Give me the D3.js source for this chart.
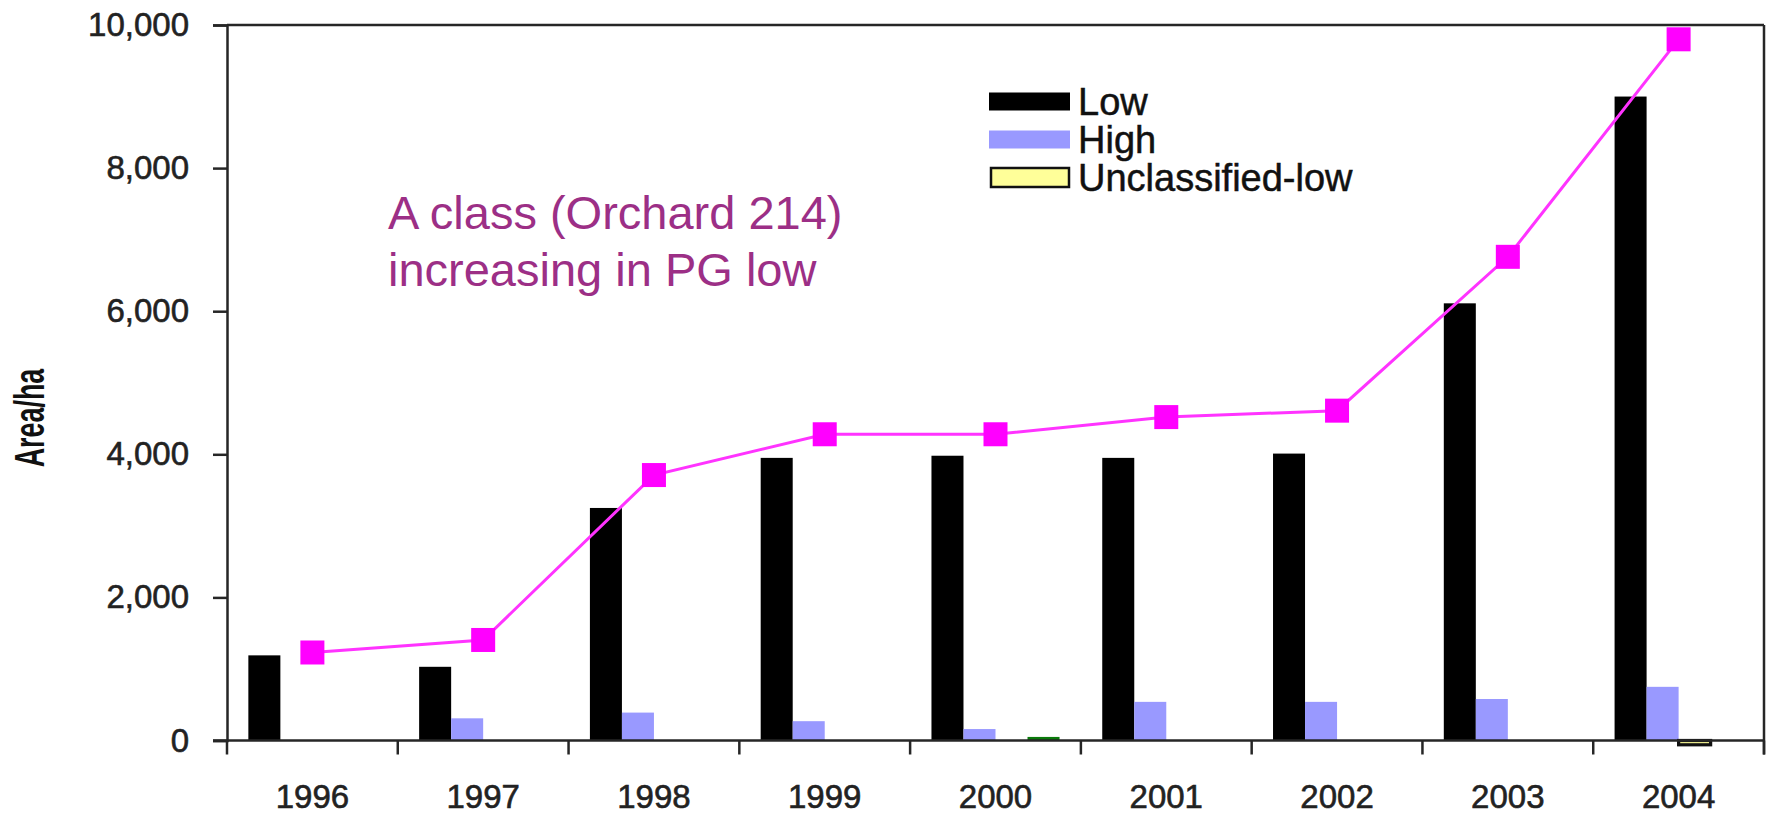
<!DOCTYPE html>
<html>
<head>
<meta charset="utf-8">
<script src="https://cdn.jsdelivr.net/npm/d3@7"></script>
<style>
  html, body { margin: 0; padding: 0; background: #fff; }
  svg { display: block; }
  text { font-family: "Liberation Sans", Arial, sans-serif; }
</style>
</head>
<body>
<svg id="chart" width="1773" height="815"></svg>
<script>
// Orchard 214 area by year (ha)
const years = ["1996", "1997", "1998", "1999", "2000", "2001", "2002", "2003", "2004"];
const lowArea = [1190, 1030, 3250, 3950, 3980, 3950, 4010, 6110, 9000];
const highArea = [0, 310, 390, 270, 160, 540, 540, 580, 750];
const unclassifiedLowArea = [0, 0, 0, 0, 0, 0, 0, 0, -60];
const otherArea = [0, 0, 0, 0, 50, 0, 0, 0, 0];
const totalArea = [1230, 1405, 3710, 4280, 4280, 4520, 4610, 6760, 9800];
const yTicks = [0, 2000, 4000, 6000, 8000, 10000];

const seriesKeys = ["low", "high", "unclassifiedLow", "other"];
const seriesValues = { low: lowArea, high: highArea, unclassifiedLow: unclassifiedLowArea, other: otherArea };
const seriesFill = { low: "#000000", high: "#9999ff", unclassifiedLow: "#ffff99", other: "#0a7a0a" };
const seriesStroke = { low: "none", high: "none", unclassifiedLow: "#111", other: "none" };

const legendItems = [
  { label: "Low", fill: "#000000", stroke: "none" },
  { label: "High", fill: "#9999ff", stroke: "none" },
  { label: "Unclassified-low", fill: "#ffff99", stroke: "#111" }
];

const svg = d3.select("#chart");
const plotLeft = 227, plotRight = 1764, plotTop = 25, plotBottom = 740.5;

const x = d3.scaleBand().domain(years).range([plotLeft, plotRight]).paddingInner(0).paddingOuter(0);
const xInner = d3.scaleBand().domain(seriesKeys).range([0, x.bandwidth()]).paddingInner(0).paddingOuter(0.667);
const y = d3.scaleLinear().domain([0, 10000]).range([plotBottom, plotTop]);

const axisColor = "#262626";
const labelColor = "#222";

// bars
const groups = svg.append("g").selectAll("g")
  .data(years)
  .join("g")
  .attr("transform", d => `translate(${x(d)},0)`);

seriesKeys.forEach(key => {
  groups.filter((d, i) => seriesValues[key][i] !== 0)
    .append("rect")
    .attr("x", xInner(key))
    .attr("width", xInner.bandwidth())
    .attr("y", d => { const v = seriesValues[key][years.indexOf(d)]; return y(Math.max(v, 0)); })
    .attr("height", d => { const v = seriesValues[key][years.indexOf(d)]; return Math.abs(y(v) - y(0)); })
    .attr("fill", seriesFill[key])
    .attr("stroke", seriesStroke[key])
    .attr("stroke-width", 3.2);
});

// plot frame (top and right)
svg.append("line").attr("x1", plotLeft).attr("x2", plotRight).attr("y1", plotTop).attr("y2", plotTop)
  .attr("stroke", axisColor).attr("stroke-width", 2.5);
svg.append("line").attr("x1", plotRight).attr("x2", plotRight).attr("y1", plotTop).attr("y2", plotBottom + 14)
  .attr("stroke", axisColor).attr("stroke-width", 2.5);

// y axis
const yAxis = svg.append("g")
  .attr("transform", `translate(${plotLeft},0)`)
  .call(d3.axisLeft(y).tickValues(yTicks).tickSize(14).tickPadding(24).tickFormat(d3.format(",")));
yAxis.select(".domain").attr("stroke", axisColor).attr("stroke-width", 2.5);
yAxis.selectAll(".tick line").attr("stroke", axisColor).attr("stroke-width", 2.5);
yAxis.selectAll(".tick text")
  .attr("font-size", 33).attr("fill", labelColor)
  .attr("stroke", labelColor).attr("stroke-width", 0.6)
  .style("font-family", "'Liberation Sans', Arial, sans-serif");

// x axis: ticks on category boundaries, labels centred in each band
const boundaries = years.map(d => x(d)).concat([plotRight]);
svg.append("g").selectAll("line")
  .data(boundaries)
  .join("line")
  .attr("x1", d => d).attr("x2", d => d)
  .attr("y1", plotBottom).attr("y2", plotBottom + 14)
  .attr("stroke", axisColor).attr("stroke-width", 2.5);
svg.append("line").attr("x1", plotLeft - 14).attr("x2", plotRight).attr("y1", plotBottom).attr("y2", plotBottom)
  .attr("stroke", axisColor).attr("stroke-width", 2.5);
svg.append("g").selectAll("text")
  .data(years)
  .join("text")
  .attr("x", d => x(d) + x.bandwidth() / 2)
  .attr("y", 808)
  .attr("text-anchor", "middle")
  .attr("font-size", 33)
  .attr("fill", labelColor)
  .attr("stroke", labelColor).attr("stroke-width", 0.6)
  .text(d => d);

// y axis title
svg.append("text")
  .attr("transform", "translate(44,418) rotate(-90) scale(0.64,1)")
  .attr("text-anchor", "middle")
  .attr("font-size", 42)
  .attr("font-weight", "bold")
  .attr("fill", "#111")
  .text("Area/ha");

// total line with square markers
const line = d3.line()
  .x((d, i) => x(years[i]) + x.bandwidth() / 2)
  .y(d => y(d));
svg.append("path")
  .datum(totalArea)
  .attr("d", line)
  .attr("fill", "none")
  .attr("stroke", "#ff33ff")
  .attr("stroke-width", 3);
const m = 24;
svg.append("g").selectAll("rect")
  .data(totalArea)
  .join("rect")
  .attr("x", (d, i) => x(years[i]) + x.bandwidth() / 2 - m / 2)
  .attr("y", d => y(d) - m / 2)
  .attr("width", m).attr("height", m)
  .attr("fill", "#ff00ff");

// legend
const legend = svg.append("g");
legendItems.forEach((item, i) => {
  const cy = 101.5 + i * 38;
  const hasBorder = item.stroke !== "none";
  legend.append("rect")
    .attr("x", hasBorder ? 991 : 989).attr("y", cy - (hasBorder ? 9.5 : 9))
    .attr("width", hasBorder ? 78 : 81).attr("height", hasBorder ? 19 : 18)
    .attr("fill", item.fill)
    .attr("stroke", item.stroke).attr("stroke-width", 2.5);
  legend.append("text")
    .attr("x", 1078).attr("y", cy + 13)
    .attr("font-size", 38)
    .attr("fill", "#111")
    .attr("stroke", "#111").attr("stroke-width", 0.5)
    .text(item.label);
});

// annotation
const note = svg.append("text")
  .attr("font-size", 47)
  .attr("fill", "#9c2f86");
note.append("tspan").attr("x", 388).attr("y", 229).text("A class (Orchard 214)");
note.append("tspan").attr("x", 388).attr("y", 286).text("increasing in PG low");
</script>
</body>
</html>
